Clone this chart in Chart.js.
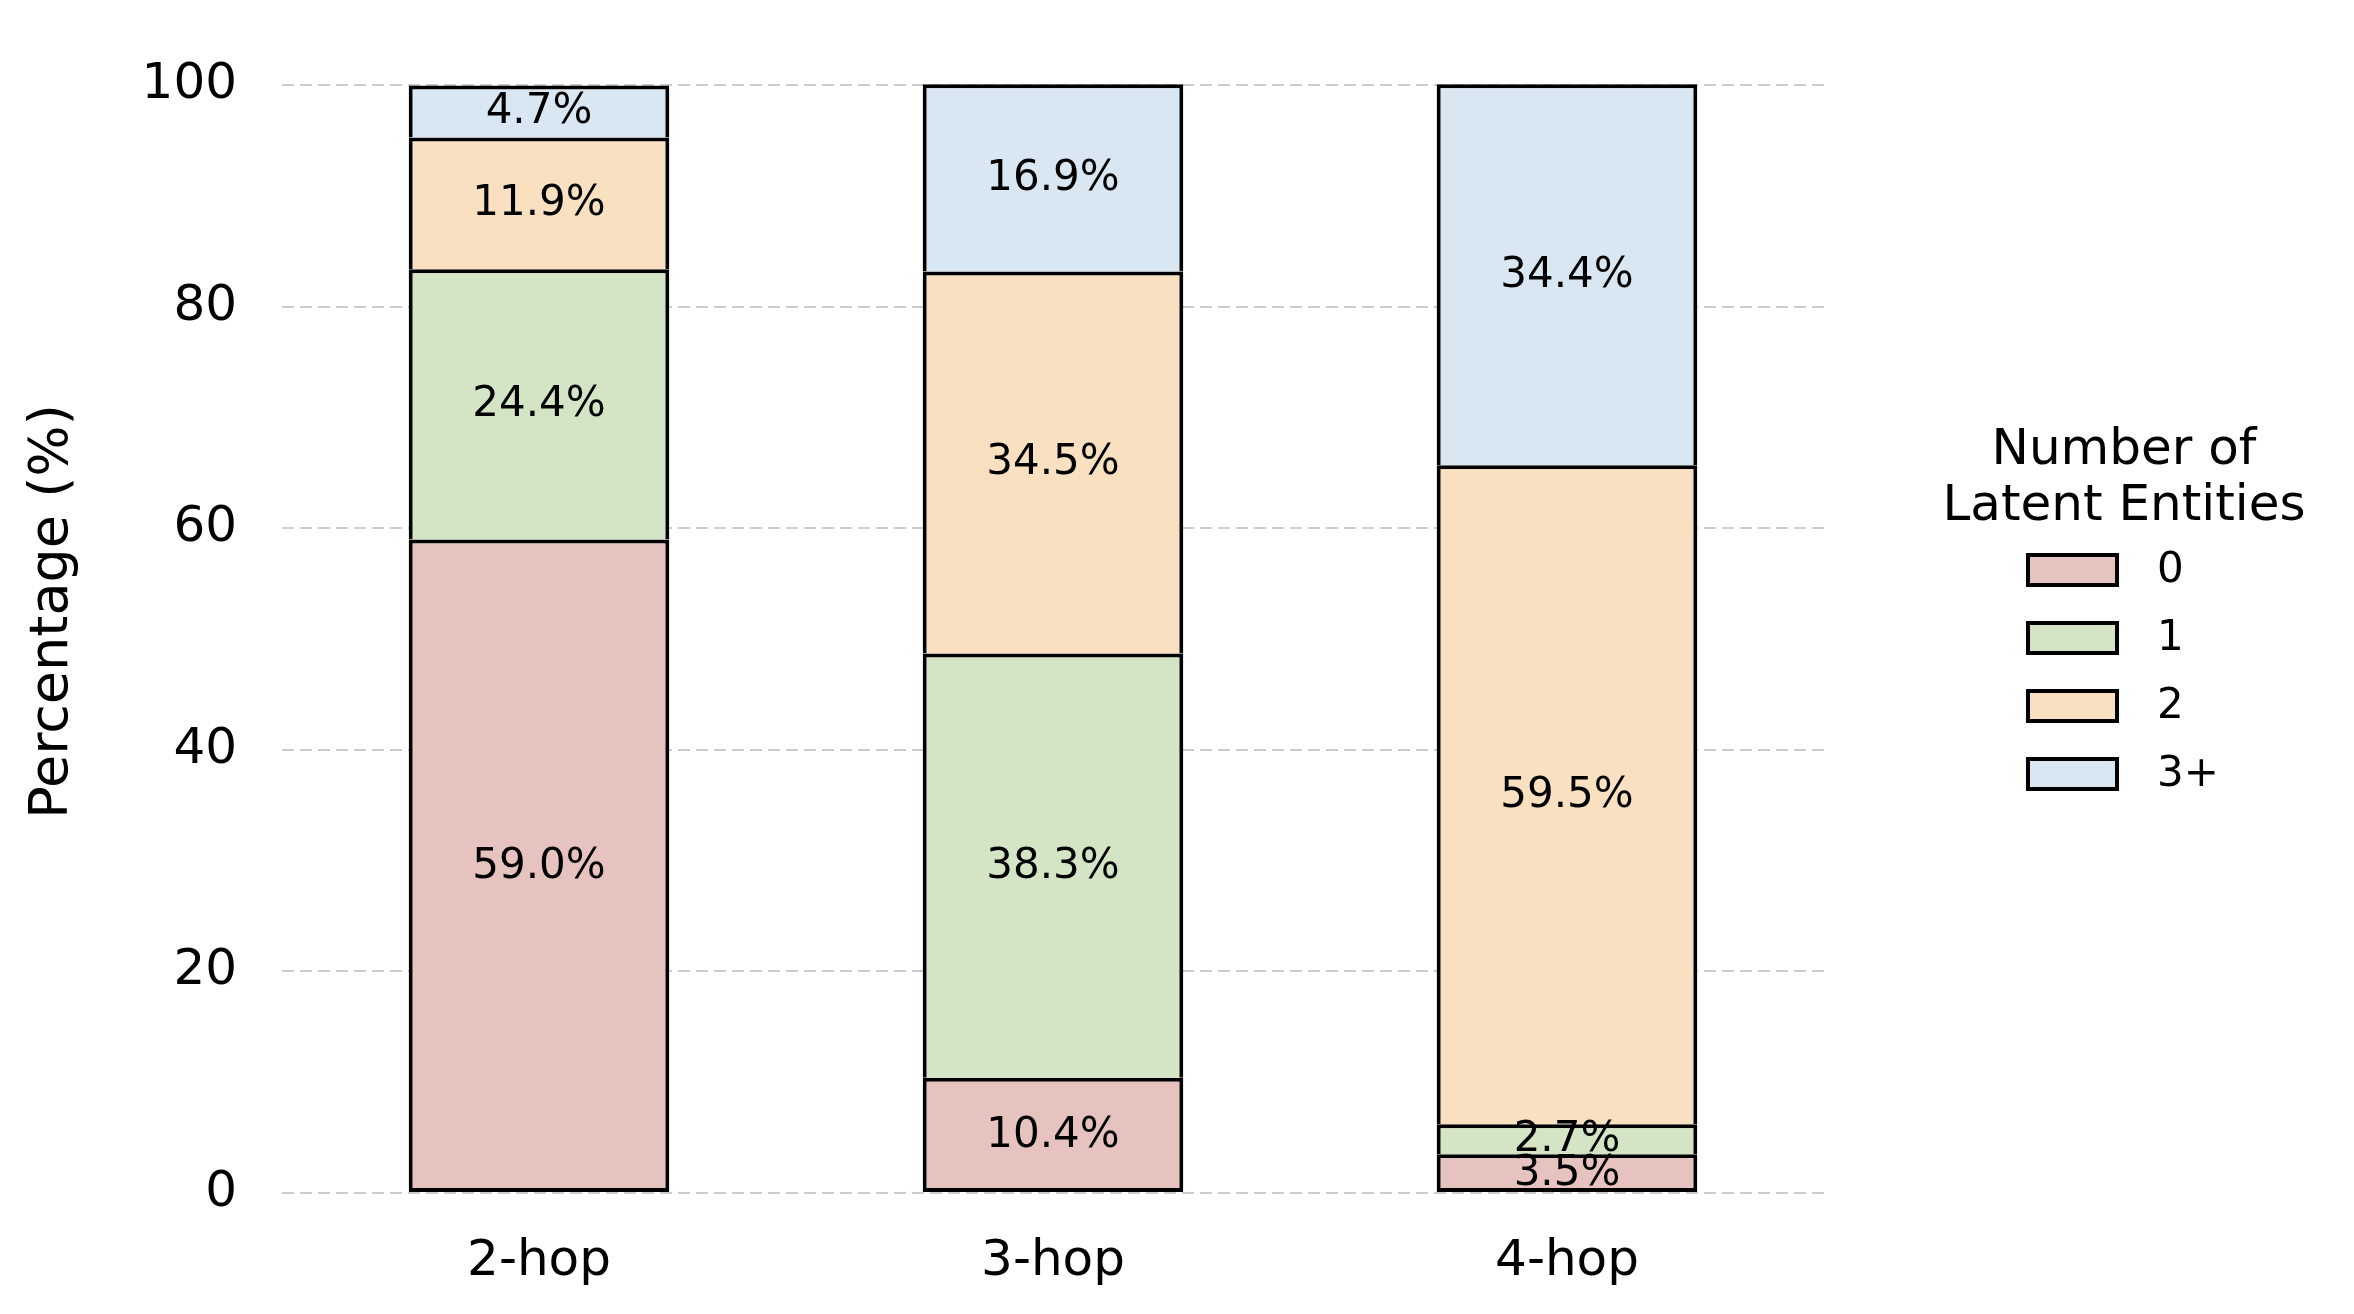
<!DOCTYPE html>
<html>
<head>
<meta charset="utf-8">
<script src="https://cdn.jsdelivr.net/npm/chart.js@4.4.1/dist/chart.umd.min.js"></script>
<style>
  html, body { margin: 0; padding: 0; background: #ffffff; }
  #wrap { width: 2354px; height: 1314px; }
</style>
</head>
<body>
<div id="wrap"><canvas id="c" width="2354" height="1314"></canvas></div>
<script>
const categories = ['2-hop', '3-hop', '4-hop'];
const seriesNames = ['0', '1', '2', '3+'];
const entities0 = [59.0, 10.4, 3.5];
const entities1 = [24.4, 38.3, 2.7];
const entities2 = [11.9, 34.5, 59.5];
const entities3 = [4.7, 16.9, 34.4];
const yTicks = [0, 20, 40, 60, 80, 100];
const legendTitle = ['Number of', 'Latent Entities'];
const yTitle = 'Percentage (%)';

const colors = ['#e6c3be', '#d4e5c6', '#f8e0c1', '#d9e7f2'];
const seriesValues = [entities0, entities1, entities2, entities3];
const FONT = "'DejaVu Sans', sans-serif";
const BW = 4;

const datasets = seriesValues.map((vals, i) => ({
  label: seriesNames[i],
  data: vals,
  backgroundColor: colors[i],
  borderColor: '#000000',
  borderWidth: { top: BW, left: BW, right: BW, bottom: i === 0 ? BW : 0 },
  borderSkipped: false,
  barPercentage: 0.507,
  categoryPercentage: 1.0
}));

const barLabelPlugin = {
  id: 'barLabels',
  afterDatasetsDraw(chart) {
    const ctx = chart.ctx;
    ctx.save();
    ctx.font = '42px ' + FONT;
    ctx.fillStyle = '#000000';
    ctx.textAlign = 'center';
    ctx.textBaseline = 'middle';
    chart.data.datasets.forEach((ds, i) => {
      const meta = chart.getDatasetMeta(i);
      meta.data.forEach((bar, j) => {
        const p = bar.getProps(['x', 'y', 'base'], true);
        const cy = (p.y + p.base) / 2;
        ctx.fillText(ds.data[j].toFixed(1) + '%', p.x, cy + 1);
      });
    });
    ctx.restore();
  }
};

const legendPlugin = {
  id: 'customLegend',
  afterDraw(chart) {
    const ctx = chart.ctx;
    ctx.save();
    ctx.fillStyle = '#000000';
    ctx.textAlign = 'center';
    ctx.textBaseline = 'alphabetic';
    ctx.font = '50px ' + FONT;
    const titleX = 2124;
    ctx.fillText(legendTitle[0], titleX, 464);
    ctx.fillText(legendTitle[1], titleX, 520);
    const boxX = 2028, boxW = 89, boxH = 30;
    const y0 = 570, step = 68;
    ctx.font = '42px ' + FONT;
    ctx.textAlign = 'left';
    ctx.textBaseline = 'middle';
    chart.data.datasets.forEach((ds, i) => {
      const cy = y0 + i * step;
      ctx.fillStyle = ds.backgroundColor;
      ctx.fillRect(boxX, cy - boxH / 2, boxW, boxH);
      ctx.strokeStyle = '#000000';
      ctx.lineWidth = 4;
      ctx.strokeRect(boxX, cy - boxH / 2, boxW, boxH);
      ctx.fillStyle = '#000000';
      ctx.fillText(ds.label, 2157, cy + 1);
    });
    ctx.restore();
  }
};

new Chart(document.getElementById('c'), {
  type: 'bar',
  data: { labels: categories, datasets: datasets },
  options: {
    responsive: false,
    devicePixelRatio: 1,
    animation: false,
    layout: { padding: { top: 30, right: 530, left: 0, bottom: 0 } },
    plugins: {
      legend: { display: false },
      tooltip: { enabled: false },
      title: { display: false }
    },
    scales: {
      x: {
        stacked: true,
        grid: { display: false, drawTicks: false },
        border: { display: false },
        ticks: { color: '#000000', font: { family: FONT, size: 50 }, padding: 39 },
        afterFit(scale) {
          scale.height = 121;
          scale.paddingLeft = 0; scale.paddingRight = 0;
        }
      },
      y: {
        stacked: true,
        min: 0,
        max: 105,
        afterBuildTicks(scale) { scale.ticks = yTicks.map(v => ({ value: v })); },
        grid: { color: '#cccccc', lineWidth: 2, drawTicks: false },
        border: { display: false, dash: [12, 6] },
        ticks: { color: '#000000', font: { family: FONT, size: 50 }, padding: 45 },
        title: {
          display: true,
          text: yTitle,
          color: '#000000',
          font: { family: FONT, size: 54 },
          padding: { top: 21, bottom: 0 }
        },
        afterFit(scale) {
          scale.width = 282;
          scale.paddingTop = 0; scale.paddingBottom = 0;
        }
      }
    }
  },
  plugins: [barLabelPlugin, legendPlugin]
});
</script>
</body>
</html>
